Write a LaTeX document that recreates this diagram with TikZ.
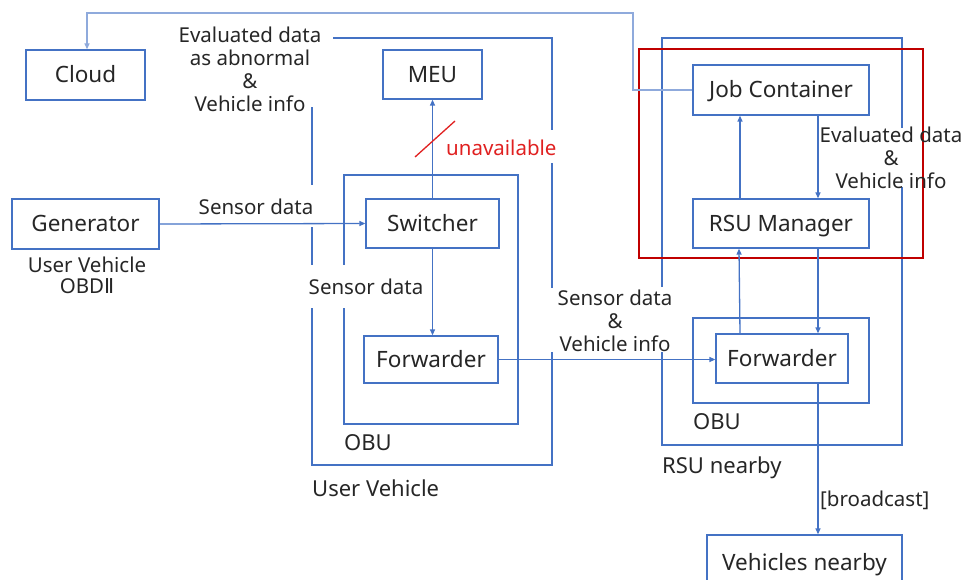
\documentclass[tikz,border=0pt]{standalone}
\usepackage{fontspec}
\setmainfont{Noto Sans}
\newfontfamily\djv{DejaVu Sans}
\usetikzlibrary{arrows.meta}
\definecolor{lblue}{HTML}{4472C4}
\definecolor{pblue}{HTML}{8FAADC}
\definecolor{dred}{HTML}{C00000}
\definecolor{tred}{HTML}{E02020}
\definecolor{txt}{HTML}{262626}
\begin{document}
\begin{tikzpicture}[x=1pt,y=-1pt,
  every node/.style={text=txt,font=\fontsize{20.5}{23}\selectfont},
  box/.style={draw=lblue,line width=1.3pt,inner sep=0pt,minimum width=#1,font=\fontsize{22.5}{25}\selectfont,text height=17pt,text depth=1pt},
  box/.default=100pt,
  cont/.style={draw=lblue,line width=1.3pt},
  arr/.style={draw=lblue,line width=1.3pt,-{Triangle[length=6pt,width=5pt]}},
  lbl/.style={align=center,inner sep=0pt},
  capl/.style={lbl,anchor=west,font=\fontsize{22}{25}\selectfont}
]
\useasboundingbox (0,0) rectangle (964,580);
\begin{scope}
\clip (0,0) rectangle (964,580);
% containers
\draw[cont] (333,38) -- (552,38) -- (552,130);
\draw[cont] (552,163) -- (552,288);
\draw[cont] (552,352) -- (552,465) -- (312,465) -- (312,308);
\draw[cont] (312,265) -- (312,227);
\draw[cont] (312,185) -- (312,107);
\draw[cont] (344,265) -- (344,175) -- (518,175) -- (518,424) -- (344,424) -- (344,308);
\draw[cont] (662,287) -- (662,38) -- (902,38) -- (902,128);
\draw[cont] (902,187) -- (902,445) -- (662,445) -- (662,352);
\draw[cont] (693,318) rectangle (869,403);
\draw[draw=dred,line width=2.8pt] (639,49) rectangle (923,258);
% boxes
\node[box=119pt,minimum height=50pt] (cloud) at (85.5,75) {Cloud};
\node[box=147pt,minimum height=50pt] (gen) at (85.5,224) {Generator};
\node[box=99pt,minimum height=49pt] (meu) at (432.5,74.5) {MEU};
\node[box=133pt,minimum height=49pt,fill=white] (sw) at (432.5,223.5) {Switcher};
\node[box=134pt,minimum height=47pt,fill=white] (ufw) at (431,359.5) {Forwarder};
\node[box=176pt,minimum height=50pt,fill=white] (job) at (781,90) {Job Container};
\node[box=176pt,minimum height=49pt,fill=white] (rsum) at (781,223.5) {RSU Manager};
\node[box=132pt,minimum height=49pt,fill=white] (rfw) at (782,358.5) {Forwarder};
\node[box=195pt,minimum height=54pt] (veh) at (804.5,562) {Vehicles nearby};
% connectors
\coordinate (up) at (633,13);
\draw[draw=pblue,line width=1.3pt,-{Triangle[length=6pt,width=5pt]},color=pblue] (job.west) -| (up) -| ([xshift=1.5pt]cloud.north);
\draw[arr] (gen.east) -- (sw.west);
\draw[arr] (sw.north) -- (meu.south);
\draw[arr] (sw.south) -- (ufw.north -| sw.south);
\draw[arr] (ufw.east) -- (rfw.west |- ufw.east);
\draw[arr] ([xshift=-41pt]rsum.north) -- ([xshift=-41pt]job.south);
\draw[arr] ([xshift=37pt]job.south) -- ([xshift=37pt]rsum.north);
\draw[arr] ([xshift=-42pt]rfw.north) -- ([xshift=-42pt]rsum.south -| rsum.south);
\draw[arr] ([xshift=37pt]rsum.south) -- ([xshift=37pt]rsum.south |- rfw.north);
\draw[arr] ([xshift=36pt]rfw.south) -- ([xshift=36pt]rfw.south |- veh.north);
\draw[draw=tred,line width=1.3pt] (415,157) -- (455,121);
\end{scope}
% labels
\node[lbl] (l1) at (250,69) {Evaluated data\\as abnormal\\\&\\Vehicle info};
\node[lbl,anchor=west,text=tred] (l2) at (446,148) {unavailable};
\node[lbl] (l3) at (256,207) {Sensor data};
\node[lbl,font=\fontsize{20.5}{21}\selectfont] (l4) at (87,275) {User Vehicle\\OBD{\djv Ⅱ}};
\node[lbl] (l5) at (366,287) {Sensor data};
\node[capl] (l6) at (344,443) {OBU};
\node[capl] (l7) at (312,488) {User Vehicle};
\node[lbl] (l8) at (615,321) {Sensor data\\\&\\Vehicle info};
\node[lbl] (l9) at (891,158) {Evaluated data\\\&\\Vehicle info};
\node[capl] (l10) at (693,422) {OBU};
\node[capl] (l11) at (662,468) {RSU nearby};
\node[lbl,anchor=west] (l12) at (820,500) {[broadcast]};
\end{tikzpicture}
\end{document}
